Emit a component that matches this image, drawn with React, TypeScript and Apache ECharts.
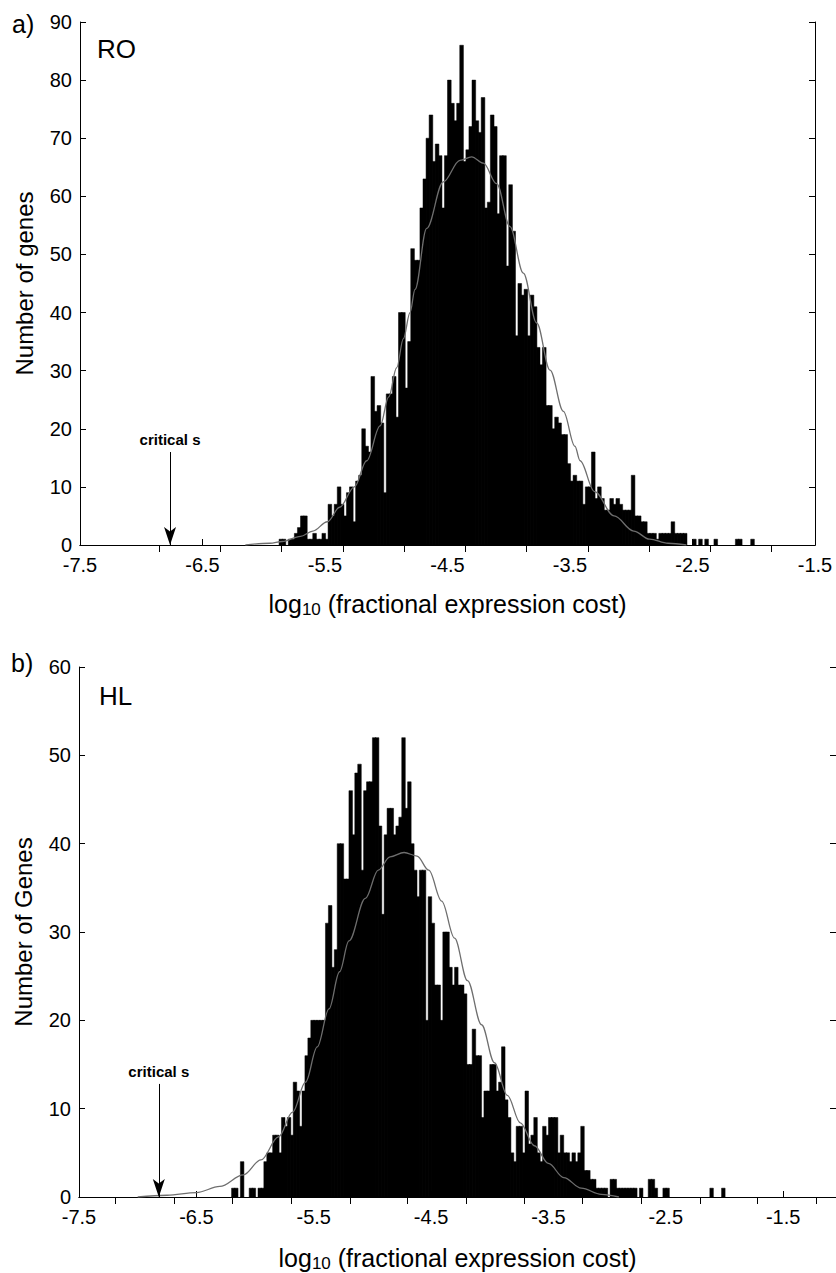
import React, { useEffect, useRef } from "react";
import * as echarts from "echarts";

// ---------- data ----------
const xTicks = [-7.5, -6.5, -5.5, -4.5, -3.5, -2.5, -1.5];
const topTicksA = [-6.855, -6.355, -5.855, -5.355, -4.855, -4.355, -3.855, -3.355, -2.855, -2.355, -1.855];
const topTicksB = [-7.19, -6.69, -6.19, -5.69, -5.19, -4.7, -4.2, -3.71, -3.21, -2.71, -2.21, -1.72, -1.22];
const criticalS = [-6.765, -6.82];

const binA = 0.025;
const startA = -5.875;
const countsA = [
  1, 1, 0, 1, 1, 2, 3, 5, 5, 1, 1, 2, 1, 1, 2, 1, 7, 5, 7, 10,
  7, 5, 9, 10, 4, 11, 12, 20, 17, 16, 29, 23, 24, 21, 9, 26, 26, 29, 22, 40,
  40, 27, 35, 51, 49, 49, 58, 63, 70, 74, 66, 69, 67, 58, 67, 80, 76, 73, 76, 86,
  66, 68, 72, 80, 73, 71, 77, 58, 59, 74, 72, 57, 67, 67, 48, 62, 54, 36, 45, 43,
  44, 36, 43, 41, 34, 31, 34, 24, 24, 20, 22, 21, 19, 19, 14, 11, 12, 11, 11, 7,
  10, 10, 16, 8, 10, 8, 6, 6, 8, 7, 8, 7, 6, 6, 6, 12, 5, 5, 4, 4,
  2, 2, 2, 1, 2, 2, 2, 2, 4, 2, 2, 2, 2, 0, 0, 1, 0, 1, 0, 1,
  0, 0, 1, 0, 0, 0, 0, 0, 0, 1, 1, 0, 0, 0, 1,
];

const binB = 0.025;
const startB = -6.2;
const countsB = [
  1, 1, 0, 4, 0, 0, 1, 1, 0, 1, 1, 4, 5, 5, 7, 7, 5, 9, 8, 9,
  7, 13, 12, 8, 12, 16, 18, 20, 20, 20, 20, 20, 31, 33, 26, 28, 40, 40, 36, 36,
  46, 41, 48, 49, 37, 46, 47, 47, 52, 52, 42, 32, 41, 44, 44, 41, 42, 43, 52, 44,
  47, 40, 37, 34, 37, 37, 20, 34, 31, 24, 24, 20, 30, 30, 26, 24, 26, 24, 24, 23,
  15, 15, 19, 16, 16, 9, 12, 12, 15, 15, 12, 13, 17, 11, 9, 5, 4, 8, 8, 5,
  12, 6, 7, 9, 5, 4, 8, 7, 9, 9, 9, 5, 7, 5, 5, 4, 5, 4, 5, 8,
  3, 3, 2, 2, 1, 1, 1, 1, 0, 2, 2, 1, 1, 1, 1, 1, 1, 1, 0, 1,
  0, 0, 2, 2, 1, 0, 0, 1, 1, 0, 0, 0, 0, 0, 0, 0, 0, 0, 0, 0,
  0, 0, 0, 1, 0, 0, 0, 1,
];

const fitA: [number, number][] = [
  [-6.15, 0], [-5.95, 0.3], [-5.85, 0.6], [-5.7, 1.5], [-5.6, 2.4], [-5.48, 4.0],
  [-5.38, 6.5], [-5.26, 10], [-5.16, 14.5], [-5.05, 20.5], [-4.98, 25.5], [-4.915, 30.5],
  [-4.86, 35.5], [-4.806, 40], [-4.765, 44], [-4.67, 54.5], [-4.534, 62.5], [-4.398, 66.2],
  [-4.303, 66.8], [-4.207, 65.7], [-4.099, 62.2], [-3.99, 54.8], [-3.881, 46.8], [-3.772, 38.2],
  [-3.663, 30.1], [-3.554, 23], [-3.46, 17], [-3.418, 14.5], [-3.3, 9.2], [-3.14, 5],
  [-2.98, 2.4], [-2.85, 1.0], [-2.7, 0.3], [-2.55, 0],
];

const fitB: [number, number][] = [
  [-7.0, 0], [-6.75, 0.2], [-6.5, 0.5], [-6.3, 1.2], [-6.1, 2.5], [-5.95, 4.2],
  [-5.8, 6.8], [-5.68, 9.6], [-5.57, 13], [-5.47, 17], [-5.37, 21.3], [-5.28, 25.5],
  [-5.2, 29], [-5.06, 33.8], [-4.95, 37], [-4.85, 38.5], [-4.73, 39], [-4.62, 38.6],
  [-4.52, 37], [-4.41, 33.5], [-4.3, 29.3], [-4.19, 24.5], [-4.07, 19.5], [-3.96, 15.2],
  [-3.85, 11.5], [-3.74, 8.4], [-3.62, 5.8], [-3.5, 3.8], [-3.37, 2.2], [-3.22, 1.0],
  [-3.05, 0.3], [-2.9, 0],
];

// ---------- styling helpers ----------
const FONT = "'Liberation Sans',Arial,Helvetica,sans-serif";
const BLACK = "#000";
const axisLine = { show: true, lineStyle: { color: BLACK, width: 1 } };

const xName = "{a|log}{s|10}{a| (fractional expression cost)}";
const xNameStyle = {
  rich: {
    a: { fontSize: 25, fontFamily: FONT, color: BLACK, lineHeight: 29 },
    s: { fontSize: 17, fontFamily: FONT, color: BLACK, lineHeight: 17, padding: [10, 0, 0, 0], verticalAlign: "bottom" },
  },
};

function bottomAxis(grid: number, max: number, nameGap: number) {
  return {
    type: "value", gridIndex: grid, position: "bottom", min: -7.5, max,
    axisLine,
    axisTick: { show: true, inside: true, length: 6, customValues: xTicks, lineStyle: { color: BLACK } },
    axisLabel: {
      show: true, customValues: xTicks, color: BLACK, fontSize: 20, fontFamily: FONT, margin: 10,
      formatter: (v: number) => v.toFixed(1),
    },
    splitLine: { show: false },
    name: xName, nameLocation: "middle", nameGap, nameTextStyle: xNameStyle,
  };
}

function topAxis(grid: number, max: number, ticks: number[]) {
  return {
    type: "value", gridIndex: grid, position: "top", min: -7.5, max,
    axisLine,
    axisTick: { show: true, inside: true, length: 7, customValues: ticks, lineStyle: { color: BLACK } },
    axisLabel: { show: false },
    splitLine: { show: false },
  };
}

function leftAxis(grid: number, max: number, name: string) {
  return {
    type: "value", gridIndex: grid, position: "left", min: 0, max, interval: 10,
    axisLine,
    axisTick: { show: true, inside: true, length: 6, lineStyle: { color: BLACK } },
    axisLabel: { color: BLACK, fontSize: 20, fontFamily: FONT, margin: 8 },
    splitLine: { show: false },
    name, nameLocation: "middle", nameGap: 44, nameRotate: 90,
    nameTextStyle: { fontSize: 24, fontFamily: FONT, color: BLACK },
  };
}

function rightAxis(grid: number, max: number) {
  return {
    type: "value", gridIndex: grid, position: "right", min: 0, max, interval: 10,
    axisLine,
    axisTick: { show: true, inside: true, length: 6, lineStyle: { color: BLACK } },
    axisLabel: { show: false },
    splitLine: { show: false },
  };
}

function histSeries(xi: number, yi: number, start: number, bin: number, counts: number[]) {
  const data = counts.map((c, i) => [start + i * bin, c]);
  return {
    type: "custom", xAxisIndex: xi, yAxisIndex: yi, data, encode: { x: 0, y: 1 }, silent: true, z: 2,
    renderItem: (_p: any, api: any) => {
      const x0 = api.value(0) as number;
      const c = api.value(1) as number;
      if (!c) return { type: "group", children: [] };
      const p0 = api.coord([x0, c]);
      const p1 = api.coord([x0 + bin, 0]);
      return {
        type: "rect",
        shape: { x: p0[0], y: p0[1], width: p1[0] - p0[0] + 0.6, height: p1[1] - p0[1] },
        style: { fill: BLACK, stroke: BLACK, lineWidth: 0.5 },
      };
    },
  };
}

function fitSeries(xi: number, yi: number, data: [number, number][], crit: number, top: number) {
  return {
    type: "line", xAxisIndex: xi, yAxisIndex: yi, data, smooth: 0.35, smoothMonotone: "x",
    symbol: "none", silent: true, z: 3,
    lineStyle: { color: "#6e6e6e", width: 1.3 },
    markLine: {
      silent: true, symbol: ["none", "arrow"], symbolSize: [9, 18],
      emphasis: { disabled: true },
      lineStyle: { color: BLACK, width: 1, type: "solid" },
      label: {
        show: true, position: "start", formatter: "critical s", color: BLACK,
        fontSize: 15, fontWeight: "bold", fontFamily: FONT, distance: 5,
      },
      data: [[{ coord: [crit, top] }, { coord: [crit, 0] }]],
    },
  };
}

export default function App() {
  const ref = useRef<HTMLDivElement>(null);
  useEffect(() => {
    document.body.style.margin = "0";
    if (!ref.current) return;
    const chart = echarts.init(ref.current, undefined, { renderer: "svg" });
    chart.setOption({
      animation: false,
      backgroundColor: "#fff",
      grid: [
        { left: 80, top: 22, width: 735, height: 523 },
        { left: 79, top: 667, width: 761, height: 534 },
      ],
      xAxis: [
        bottomAxis(0, -1.5, 44),
        topAxis(0, -1.5, topTicksA),
        bottomAxis(1, -1.05, 46),
        topAxis(1, -1.05, topTicksB),
      ],
      yAxis: [
        leftAxis(0, 90, "Number of genes"),
        rightAxis(0, 90),
        leftAxis(1, 60, "Number of Genes"),
        rightAxis(1, 60),
      ],
      series: [
        histSeries(0, 0, startA, binA, countsA),
        fitSeries(0, 0, fitA, criticalS[0], 16),
        histSeries(2, 2, startB, binB, countsB),
        fitSeries(2, 2, fitB, criticalS[1], 12.8),
      ],
      graphic: [
        { type: "text", left: 12, top: 11, style: { text: "a)", fontSize: 25, fontFamily: FONT, fill: BLACK } },
        { type: "text", left: 97, top: 36, style: { text: "RO", fontSize: 26, fontFamily: FONT, fill: BLACK } },
        { type: "text", left: 11, top: 650, style: { text: "b)", fontSize: 25, fontFamily: FONT, fill: BLACK } },
        { type: "text", left: 99, top: 683, style: { text: "HL", fontSize: 26, fontFamily: FONT, fill: BLACK } },
      ],
    });
    return () => chart.dispose();
  }, []);
  return <div ref={ref} style={{ width: 836, height: 1273 }} />;
}
